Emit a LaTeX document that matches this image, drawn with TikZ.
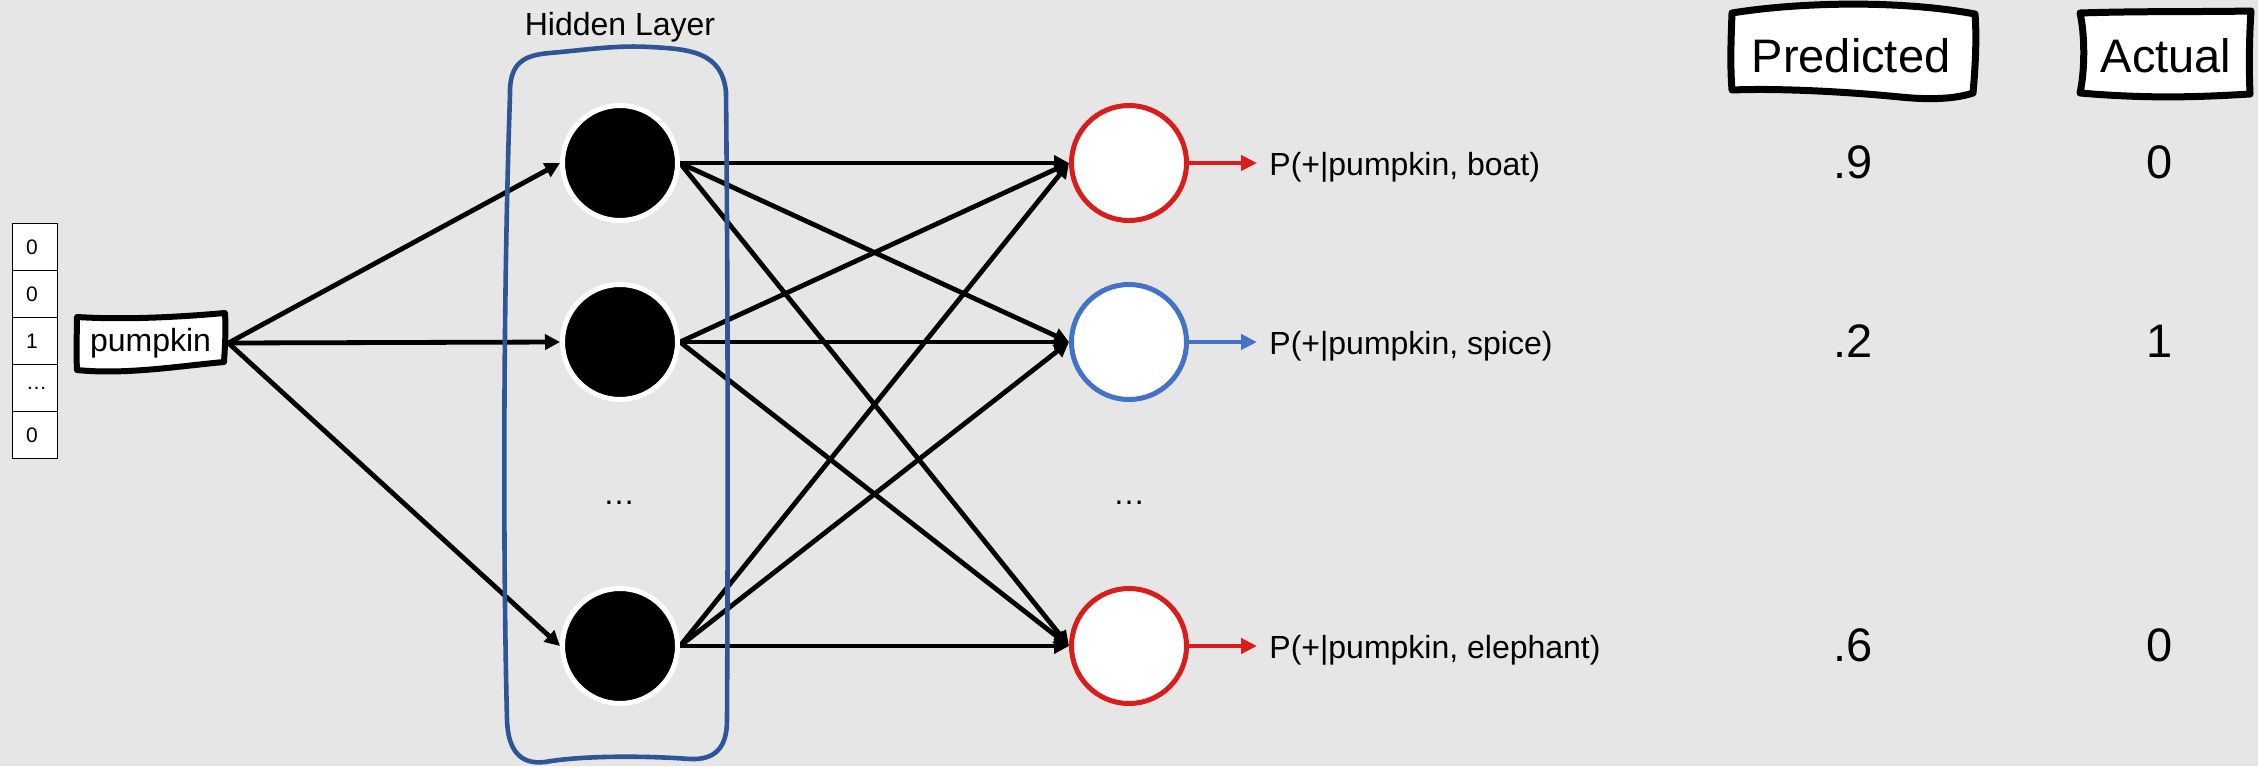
\documentclass[tikz,border=0pt]{standalone}
\usepackage{fontspec}
\setmainfont{Liberation Sans}
\usetikzlibrary{arrows.meta,calc}
\definecolor{canvas}{HTML}{E6E6E6}
\definecolor{layerblue}{HTML}{2F5597}
\definecolor{outblue}{HTML}{4472C4}
\definecolor{outred}{RGB}{216,30,28}
\pgfdeclarelayer{back}
\pgfdeclarelayer{edges}
\pgfsetlayers{back,edges,main}

\begin{document}
\begin{tikzpicture}[x=0.5pt,y=-0.5pt,
  hid/.style={circle, fill=black, draw=white, line width=2.5pt, minimum size=57.5pt, inner sep=0pt},
  outnode/.style={circle, fill=white, line width=2.5pt, minimum size=57.5pt, inner sep=0pt},
  conn/.style={line width=2.4pt, -{Triangle[length=7.5pt,width=7.5pt]}},
  outarrow/.style={line width=2.25pt, -{Triangle[length=8pt,width=7.5pt]}},
  sketch/.style={draw=black, fill=white, line width=3.5pt, line join=round},
  hlayer/.style={draw=layerblue, line width=2.3pt, line join=round},
  lab/.style={font=\fontsize{16}{19}\selectfont, inner sep=0pt},
  head/.style={font=\fontsize{23.5}{28}\selectfont, inner sep=0pt},
  dots/.style={font=\fontsize{16}{19}\selectfont, inner sep=0pt},
  cell/.style={draw=black, fill=white, line width=0.75pt, minimum width=22.5pt,
    minimum height=23.5pt, inner sep=0pt, text width=9pt, align=left,
    font=\fontsize{10.5}{12}\selectfont}]

\begin{pgfonlayer}{back}
  \fill[canvas] (0,0) rectangle (2258,766);
\end{pgfonlayer}
\useasboundingbox (0,0) rectangle (2258,766);

% one-hot input vector
\node[cell] (c1) at (35,247) {0};
\node[cell] (c2) at (35,294) {0};
\node[cell] (c3) at (35,341) {1};
\node[cell] (c4) at (35,388) {…};
\node[cell] (c5) at (35,435) {0};

% input word box (hand-drawn outline)
\draw[sketch, line width=3pt] (77,317) .. controls (125,320) and (180,317) .. (225,313)
  .. controls (226,330) and (225,347) .. (224,362)
  .. controls (180,366) and (125,375) .. (77,370)
  .. controls (76,350) and (77,332) .. (77,317) -- cycle;
\node[lab, minimum width=77.5pt, minimum height=30pt] (pumpkin) at (150.5,343) {pumpkin};

% hidden layer frame
\draw[hlayer] (510,95) .. controls (509,62) and (525,55) .. (550,53)
  .. controls (585,50) and (615,45) .. (650,47)
  .. controls (690,49) and (722,52) .. (726,92)
  .. controls (728,300) and (728,520) .. (727,720)
  .. controls (727,748) and (715,760) .. (690,759)
  .. controls (650,756) and (585,755) .. (545,762)
  .. controls (520,765) and (508,750) .. (507,720)
  .. controls (503,560) and (503,300) .. (510,95) -- cycle;
\node[lab, anchor=base] (hlabel) at (620,35) {Hidden Layer};

% hidden units
\node[hid] (h1) at (620,163) {};
\node[hid] (h2) at (620,342) {};
\node[hid] (h3) at (620,646) {};
\node[dots] (hdots) at (619,503) {…};

% output units
\node[outnode, draw=outred] (o1) at (1129,163) {};
\node[outnode, draw=outblue] (o2) at (1129,342) {};
\node[outnode, draw=outred] (o3) at (1129,646) {};
\node[dots] (odots) at (1129,503) {…};

% output labels
\node[lab, anchor=base west] (l1) at (1269,175) {P(+|pumpkin, boat)};
\node[lab, anchor=base west] (l2) at (1269,354) {P(+|pumpkin, spice)};
\node[lab, anchor=base west] (l3) at (1269,658) {P(+|pumpkin, elephant)};

\draw[outarrow, color=outred] (o1.east) -- ($(l1.west |- o1.east)+(-12,0)$);
\draw[outarrow, color=outblue] (o2.east) -- ($(l2.west |- o2.east)+(-12,0)$);
\draw[outarrow, color=outred] (o3.east) -- ($(l3.west |- o3.east)+(-12,0)$);

% connections
\begin{pgfonlayer}{edges}
  \foreach \h in {h1,h2,h3}
    \draw[conn] (pumpkin.east) -- (\h.west);
  \foreach \h in {h1,h2,h3}
    \foreach \o in {o1,o2,o3}
      \draw[conn] (\h.east) -- (\o.west);
\end{pgfonlayer}

% column headers (hand-drawn boxes)
\draw[sketch] (1732,13) .. controls (1800,2) and (1900,0) .. (1975,14)
  .. controls (1977,40) and (1975,70) .. (1973,93)
  .. controls (1955,99) and (1930,100) .. (1900,97)
  .. controls (1850,92) and (1780,88) .. (1732,90)
  .. controls (1730,65) and (1731,40) .. (1732,13) -- cycle;
\node[head, anchor=base] (pred) at (1851,72) {Predicted};

\draw[sketch] (2080,13) .. controls (2140,11) and (2200,12) .. (2251,11)
  .. controls (2249,40) and (2249,70) .. (2250,94)
  .. controls (2200,97) and (2150,99) .. (2080,93)
  .. controls (2085,70) and (2085,35) .. (2080,13) -- cycle;
\node[head, anchor=base] (act) at (2166,72) {Actual};

% values
\node[head, anchor=base] (p1) at (1853,178) {.9};
\node[head, anchor=base] (p2) at (1853,357) {.2};
\node[head, anchor=base] (p3) at (1853,661) {.6};
\node[head, anchor=base] (a1) at (2160,178) {0};
\node[head, anchor=base] (a2) at (2160,357) {1};
\node[head, anchor=base] (a3) at (2160,661) {0};
\end{tikzpicture}
\end{document}
